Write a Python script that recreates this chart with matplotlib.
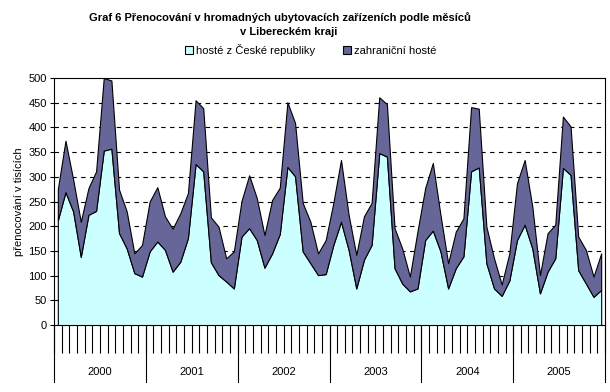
import matplotlib
matplotlib.use('Agg')
import matplotlib.pyplot as plt
from matplotlib.patches import Patch
import numpy as np

# monthly overnight stays (thousands), Jan 2000 - Dec 2005
years = ['2000', '2001', '2002', '2003', '2004', '2005']
domestic = [212, 269, 230, 138, 223, 231, 353, 357, 186, 155, 105, 98,
            149, 169, 152, 108, 128, 176, 326, 311, 127, 101, 88, 74,
            179, 196, 172, 116, 145, 184, 320, 301, 149, 125, 101, 103,
            162, 209, 152, 74, 132, 162, 348, 341, 115, 84, 68, 74,
            172, 191, 149, 74, 115, 139, 311, 319, 125, 74, 59, 90,
            172, 203, 155, 64, 108, 135, 318, 304, 111, 84, 57, 71]
foreign = [63, 104, 65, 71, 54, 80, 147, 138, 88, 75, 40, 64,
           101, 110, 68, 87, 98, 91, 129, 128, 91, 98, 47, 75,
           72, 107, 85, 66, 108, 94, 131, 108, 98, 84, 44, 69,
           85, 125, 71, 68, 88, 85, 113, 106, 81, 71, 30, 116,
           105, 137, 74, 51, 74, 77, 130, 119, 74, 61, 23, 55,
           115, 131, 85, 37, 78, 68, 104, 98, 68, 68, 41, 74]
labels = ['hosté z České republiky', 'zahraniční hosté']
colors = ['#CCFFFF', '#666699']

plt.rcParams['font.family'] = ['Liberation Sans', 'DejaVu Sans']

fig = plt.figure(figsize=(6.1, 3.92), dpi=100)
ax = fig.add_axes([54 / 610, 1 - 325 / 392, 551 / 610, 247 / 392])

x = np.arange(len(domestic))
dom = np.array(domestic)
top = dom + np.array(foreign)
ax.fill_between(x, 0, dom, facecolor=colors[0], edgecolor='black', linewidth=0.8, zorder=3)
ax.fill_between(x, dom, top, facecolor=colors[1], edgecolor='black', linewidth=0.8, zorder=3)

ax.set_xlim(-0.5, len(domestic) - 0.5)
ax.set_ylim(0, 500)
ax.set_yticks(range(0, 501, 50))
ax.tick_params(axis='y', labelsize=8, length=3, pad=2)
for v in range(50, 500, 50):
    ax.axhline(v, color='black', linestyle=(0, (4, 4)), linewidth=0.8, zorder=1)

# category axis: month ticks plus year groups
ax.set_xticks(np.arange(-0.5, len(domestic), 1))
ax.set_xticklabels([])
ax.tick_params(axis='x', length=20, width=0.8, direction='out')
trans = ax.get_xaxis_transform()
for k in range(len(years) + 1):
    ax.plot([12 * k - 0.5] * 2, [0, -0.23], transform=trans, color='black',
            linewidth=0.8, clip_on=False)
for k, yr in enumerate(years):
    ax.text(12 * k + 5.5, -0.19, yr, transform=trans, ha='center', va='center', fontsize=8)

for s in ax.spines.values():
    s.set_linewidth(0.8)

ax.set_ylabel('přenocování v tisících', fontsize=8, labelpad=3)

fig.text(0.459, 1 - 18 / 392, 'Graf 6 Přenocování v hromadných ubytovacích zařízeních podle měsíců',
         ha='center', va='center', fontsize=8, fontweight='bold')
fig.text(0.474, 1 - 32 / 392, 'v Libereckém kraji',
         ha='center', va='center', fontsize=8, fontweight='bold')

handles = [Patch(facecolor=c, edgecolor='black', linewidth=0.8) for c in colors]
fig.legend(handles, labels, loc='center', bbox_to_anchor=(0.51, 1 - 50 / 392), ncol=2,
           frameon=False, fontsize=8, handlelength=0.7, handleheight=0.7,
           handletextpad=0.3, columnspacing=2.5)

fig.savefig('out.png', dpi=100)
